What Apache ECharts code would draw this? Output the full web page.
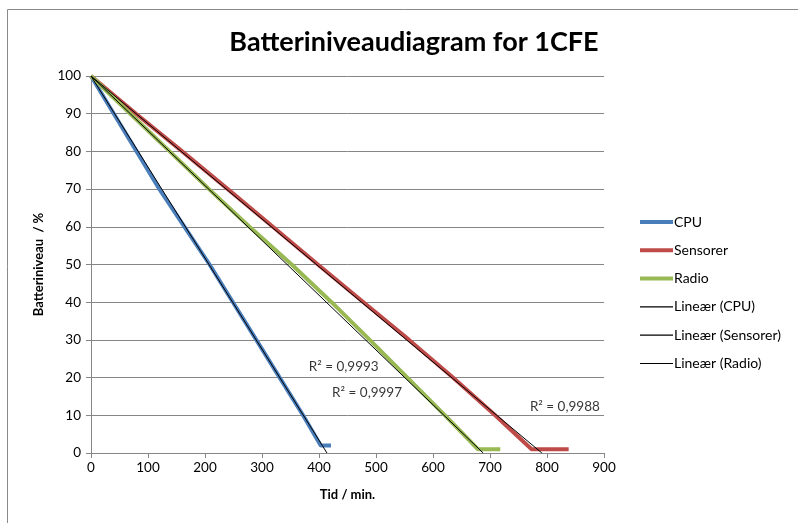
<!DOCTYPE html>
<html>
<head>
<meta charset="utf-8">
<script src="https://cdn.jsdelivr.net/npm/echarts@6/dist/echarts.min.js"></script>
<style>
  html, body { margin: 0; padding: 0; background: #fff; }
  #chart { width: 798px; height: 523px; }
</style>
</head>
<body>
<div id="chart"></div>
<script>
// Measured battery level (%) against time (min.) for each consumer
const cpuTime = [0, 40, 80, 120, 164, 208, 249, 290, 331, 372, 403, 421];
const cpuLevel = [100, 90, 80, 70, 60, 50, 40, 30, 20, 10, 2, 2];

const sensorTime = [0, 79, 160, 240, 319, 398, 478, 558, 635, 709, 773, 838];
const sensorLevel = [100, 90, 80, 70, 60, 50, 40, 30, 20, 10, 1, 1];

const radioTime = [0, 69, 138, 207, 278, 352, 422, 489, 555, 621, 679, 718];
const radioLevel = [100, 90, 80, 70, 60, 50, 40, 30, 20, 10, 1, 1];

// Linear trend lines (start and end points)
const trendCpu = [[0, 100], [414, 0]];
const trendSensor = [[0, 100], [791, 0]];
const trendRadio = [[0, 100], [688, 0]];

// Coefficient of determination labels, anchored in data coordinates
const r2Labels = [
  { text: 'R² = 0,9993', at: [382, 22.8] },
  { text: 'R² = 0,9997', at: [423, 15.9] },
  { text: 'R² = 0,9988', at: [770, 12.2] }
];

const xTicks = [0, 100, 200, 300, 400, 500, 600, 700, 800, 900];
const yTicks = [0, 10, 20, 30, 40, 50, 60, 70, 80, 90, 100];

const seriesNames = ['CPU', 'Sensorer', 'Radio'];
const trendNames = ['Lineær (CPU)', 'Lineær (Sensorer)', 'Lineær (Radio)'];

const zip = (xs, ys) => xs.map((x, i) => [x, ys[i]]);
const font = 'Lato, "Open Sans", sans-serif';

const dataLine = (name, xs, ys, color) => ({
  name, type: 'line', data: zip(xs, ys), symbol: 'none',
  lineStyle: { color, width: 4 }, itemStyle: { color }, z: 2, clip: true
});
const trendLine = (name, pts) => ({
  name, type: 'line', data: pts, symbol: 'none',
  lineStyle: { color: '#000', width: 1 }, itemStyle: { color: '#000' }, z: 3, clip: true
});

const thickIcon = 'path://M0 0H33V4H0Z';
const thinIcon = 'path://M0 0H33V1.2H0Z';

const chart = echarts.init(document.getElementById('chart'), null, { renderer: 'canvas' });
chart.setOption({
  animation: false,
  backgroundColor: '#fff',
  textStyle: { fontFamily: font },
  graphic: [{
    type: 'rect', shape: { x: 7.5, y: 9.5, width: 820, height: 540 },
    style: { fill: 'none', stroke: '#8a8a8a', lineWidth: 1 }, silent: true
  }],
  title: {
    text: 'Batteriniveaudiagram for 1CFE',
    left: 409, top: 24, textAlign: 'center',
    textStyle: { fontFamily: font, fontWeight: 'bold', fontSize: 27, color: '#000' }
  },
  legend: {
    data: seriesNames.map(n => ({ name: n, icon: thickIcon }))
      .concat(trendNames.map(n => ({ name: n, icon: thinIcon }))),
    orient: 'vertical', left: 640, top: 215, padding: 0,
    itemWidth: 33, itemHeight: 14, itemGap: 14.3, symbolKeepAspect: true,
    textStyle: { fontFamily: font, fontSize: 14, color: '#000', padding: [0, 0, 0, -4] },
    selectedMode: false
  },
  grid: { left: 91, right: 194, top: 76, bottom: 70 },
  xAxis: {
    type: 'value', min: 0, max: 900, interval: 100,
    name: 'Tid / min.', nameLocation: 'middle', nameGap: 35,
    nameTextStyle: { fontFamily: font, fontWeight: 'bold', fontSize: 13, color: '#000' },
    axisLine: { lineStyle: { color: '#868686' } },
    axisTick: { show: true, length: 5, inside: false, lineStyle: { color: '#868686' } },
    axisLabel: { fontFamily: font, fontSize: 13.5, color: '#000', margin: 8,
      formatter: v => xTicks.includes(v) ? String(v) : '' },
    splitLine: { show: false }
  },
  yAxis: {
    type: 'value', min: 0, max: 100, interval: 10,
    name: 'Batteriniveau  / %', nameLocation: 'middle', nameGap: 46,
    nameTextStyle: { fontFamily: font, fontWeight: 'bold', fontSize: 13, color: '#000' },
    axisLine: { show: true, lineStyle: { color: '#868686' } },
    axisTick: { show: true, length: 5, inside: false, lineStyle: { color: '#868686' } },
    axisLabel: { fontFamily: font, fontSize: 13.5, color: '#000', margin: 10,
      formatter: v => yTicks.includes(v) ? String(v) : '' },
    splitLine: { lineStyle: { color: '#868686', width: 1 } }
  },
  series: [
    dataLine('CPU', cpuTime, cpuLevel, '#4a7ebb'),
    dataLine('Sensorer', sensorTime, sensorLevel, '#be4b48'),
    dataLine('Radio', radioTime, radioLevel, '#98b954'),
    trendLine('Lineær (CPU)', trendCpu),
    trendLine('Lineær (Sensorer)', trendSensor),
    trendLine('Lineær (Radio)', trendRadio),
    {
      name: 'r2', type: 'scatter', symbolSize: 0, z: 5,
      data: r2Labels.map(d => ({ value: d.at, label: { formatter: d.text } })),
      label: { show: true, position: 'right', distance: 0,
        fontFamily: font, fontSize: 13.5, color: '#000' }
    }
  ]
});
</script>
</body>
</html>
